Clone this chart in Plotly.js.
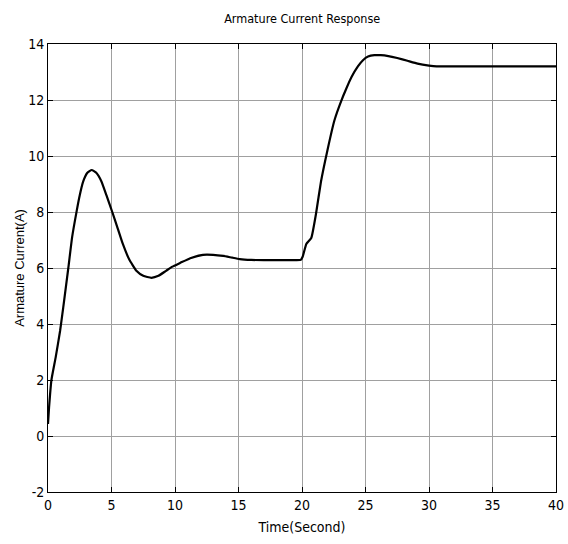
<!DOCTYPE html>
<html>
<head>
<meta charset="utf-8">
<script src="https://cdn.plot.ly/plotly-3.0.1.min.js"></script>
<style>html,body{margin:0;padding:0;background:#fff;}#chart{width:568px;height:544px;}</style>
</head>
<body>
<div id="chart"></div>
<script>
const timeSec = [0, 0.08, 0.27, 0.6, 0.95, 1.13, 1.26, 1.6, 1.9, 2.26, 2.5, 2.78, 3.1, 3.44, 3.8, 4.2, 4.6, 5.06, 5.5, 5.9, 6.4, 6.96, 7.5, 8.14, 8.7, 9.3, 9.8, 10.4, 11.2, 12.2, 13.0, 13.8, 14.5, 15.1, 16, 17, 18, 19, 19.9, 20.05, 20.34, 20.73, 21.1, 21.5, 22.0, 22.55, 23.1, 23.5, 23.9, 24.4, 24.8, 25.2, 25.7, 26.2, 26.8, 27.5, 28.3, 29.1, 30.0, 30.6, 32, 34, 36, 38, 40];
const currentA = [0.43, 1.0, 2.0, 2.8, 3.75, 4.35, 4.8, 6.0, 7.1, 8.04, 8.6, 9.1, 9.4, 9.5, 9.4, 9.1, 8.6, 8.0, 7.4, 6.85, 6.3, 5.9, 5.72, 5.65, 5.72, 5.9, 6.05, 6.18, 6.35, 6.47, 6.47, 6.43, 6.37, 6.32, 6.29, 6.28, 6.28, 6.28, 6.29, 6.4, 6.86, 7.07, 7.93, 9.1, 10.2, 11.27, 11.98, 12.42, 12.82, 13.2, 13.42, 13.55, 13.6, 13.6, 13.57, 13.5, 13.4, 13.3, 13.23, 13.2, 13.2, 13.2, 13.2, 13.2, 13.2];
const xTicks = [0, 5, 10, 15, 20, 25, 30, 35, 40];
const yTicks = [-2, 0, 2, 4, 6, 8, 10, 12, 14];

const narrow = '"DejaVu Sans Condensed", "Liberation Sans Narrow", "Liberation Sans", Arial, sans-serif';

const trace = {
  x: timeSec, y: currentA, mode: 'lines', type: 'scatter',
  line: {color: '#000', width: 2.2, shape: 'spline', smoothing: 0.4},
  hoverinfo: 'skip'
};

const axisCommon = {
  showline: true, mirror: 'ticks', linecolor: '#000', linewidth: 1,
  ticks: 'inside', ticklen: 5, tickcolor: '#000',
  showgrid: true, gridcolor: '#a0a0a0', gridwidth: 1,
  zeroline: false,
  tickfont: {family: narrow, size: 14, color: '#000'}
};

const layout = {
  width: 568, height: 544,
  margin: {l: 48, r: 12, t: 44, b: 52},
  paper_bgcolor: '#fff', plot_bgcolor: '#fff',
  showlegend: false,
  title: {text: 'Armature Current Response', font: {family: narrow, size: 12.5, color: '#000'}, x: 0.532, xanchor: 'center', y: 0.965, yanchor: 'middle'},
  xaxis: Object.assign({}, axisCommon, {
    range: [0, 40], tickmode: 'array', tickvals: xTicks, ticktext: xTicks.map(String),
    title: {text: 'Time(Second)', font: {family: narrow, size: 14, color: '#000'}, standoff: 10}
  }),
  yaxis: Object.assign({}, axisCommon, {
    range: [-2, 14], tickmode: 'array', tickvals: yTicks, ticktext: yTicks.map(String),
    title: {text: 'Armature Current(A)', font: {family: '"Liberation Sans", Arial, sans-serif', size: 13, color: '#000'}, standoff: 0}
  })
};

Plotly.newPlot('chart', [trace], layout, {staticPlot: true, displayModeBar: false});
</script>
</body>
</html>
